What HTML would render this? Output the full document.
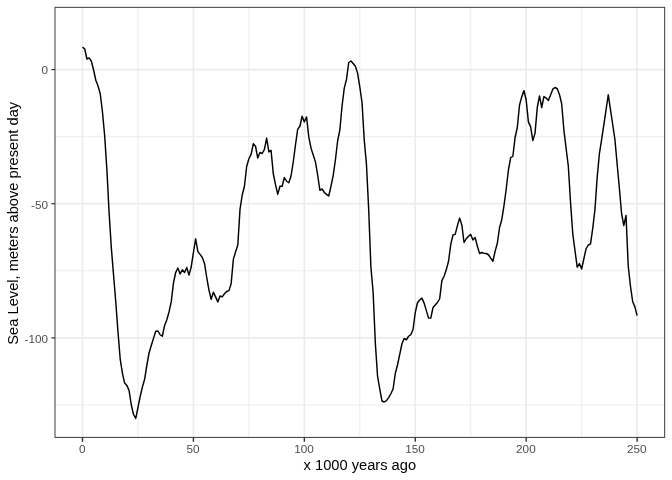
<!DOCTYPE html><html><head><meta charset="utf-8"><title>Sea level</title>
<style>html,body{margin:0;padding:0;background:#fff;overflow:hidden}svg{display:block}text{font-family:"Liberation Sans",Arial,Helvetica,sans-serif}</style></head><body>
<svg width="672" height="480" viewBox="0 0 672 480">
<rect x="0" y="0" width="672" height="480" fill="#fff"/>
<line x1="55.0" x2="664.67" y1="136.67" y2="136.67" stroke="#ebebeb" stroke-width="0.95"/>
<line x1="55.0" x2="664.67" y1="270.82" y2="270.82" stroke="#ebebeb" stroke-width="0.95"/>
<line x1="55.0" x2="664.67" y1="404.98" y2="404.98" stroke="#ebebeb" stroke-width="0.95"/>
<line y1="7.33" y2="437.4" x1="137.96" x2="137.96" stroke="#ebebeb" stroke-width="0.95"/>
<line y1="7.33" y2="437.4" x1="248.88" x2="248.88" stroke="#ebebeb" stroke-width="0.95"/>
<line y1="7.33" y2="437.4" x1="359.80" x2="359.80" stroke="#ebebeb" stroke-width="0.95"/>
<line y1="7.33" y2="437.4" x1="470.72" x2="470.72" stroke="#ebebeb" stroke-width="0.95"/>
<line y1="7.33" y2="437.4" x1="581.64" x2="581.64" stroke="#ebebeb" stroke-width="0.95"/>
<line x1="55.0" x2="664.67" y1="69.60" y2="69.60" stroke="#ebebeb" stroke-width="1.6"/>
<line x1="55.0" x2="664.67" y1="203.75" y2="203.75" stroke="#ebebeb" stroke-width="1.6"/>
<line x1="55.0" x2="664.67" y1="337.90" y2="337.90" stroke="#ebebeb" stroke-width="1.6"/>
<line y1="7.33" y2="437.4" x1="82.50" x2="82.50" stroke="#ebebeb" stroke-width="1.6"/>
<line y1="7.33" y2="437.4" x1="193.42" x2="193.42" stroke="#ebebeb" stroke-width="1.6"/>
<line y1="7.33" y2="437.4" x1="304.34" x2="304.34" stroke="#ebebeb" stroke-width="1.6"/>
<line y1="7.33" y2="437.4" x1="415.26" x2="415.26" stroke="#ebebeb" stroke-width="1.6"/>
<line y1="7.33" y2="437.4" x1="526.18" x2="526.18" stroke="#ebebeb" stroke-width="1.6"/>
<line y1="7.33" y2="437.4" x1="637.10" x2="637.10" stroke="#ebebeb" stroke-width="1.6"/>
<polyline points="82.50,47.10 84.72,49.00 86.94,59.00 89.16,57.90 91.37,61.25 93.59,70.00 95.81,80.25 98.03,86.00 100.25,93.75 102.47,112.00 104.68,136.00 106.90,170.00 109.12,213.00 111.34,248.00 113.56,275.00 115.78,302.00 117.99,332.00 120.21,359.20 122.43,373.30 124.65,383.10 126.87,385.40 129.09,390.50 131.30,405.00 133.52,414.50 135.74,418.40 137.96,407.50 140.18,396.50 142.40,387.00 144.62,379.30 146.83,365.30 149.05,353.00 151.27,345.50 153.49,338.40 155.71,331.20 157.93,331.00 160.14,334.75 162.36,336.25 164.58,325.50 166.80,320.00 169.02,311.90 171.24,301.90 173.45,283.10 175.67,272.50 177.89,268.10 180.11,274.00 182.33,269.75 184.55,272.50 186.76,267.50 188.98,275.10 191.20,267.00 193.42,252.50 195.64,238.75 197.86,251.60 200.08,254.40 202.29,257.50 204.51,263.40 206.73,277.50 208.95,290.00 211.17,299.40 213.39,292.25 215.60,296.90 217.82,301.90 220.04,296.00 222.26,296.90 224.48,293.75 226.70,291.50 228.91,290.60 231.13,283.75 233.35,259.40 235.57,251.90 237.79,245.00 240.01,209.40 242.22,195.00 244.44,186.25 246.66,166.50 248.88,158.75 251.10,154.40 253.32,143.75 255.54,146.25 257.75,158.10 259.97,152.50 262.19,153.50 264.41,149.40 266.63,138.10 268.85,151.90 271.06,150.40 273.28,173.75 275.50,184.70 277.72,194.40 279.94,186.25 282.16,186.25 284.37,177.50 286.59,181.25 288.81,182.75 291.03,176.00 293.25,162.00 295.47,145.00 297.68,129.40 299.90,126.25 302.12,116.25 304.34,121.90 306.56,116.90 308.78,136.90 311.00,148.10 313.21,155.00 315.43,161.90 317.65,175.00 319.87,190.25 322.09,189.00 324.31,192.50 326.52,194.40 328.74,196.00 330.96,186.25 333.18,175.60 335.40,160.00 337.62,141.00 339.83,130.00 342.05,106.00 344.27,88.10 346.49,79.40 348.71,62.50 350.93,61.00 353.14,63.50 355.36,66.25 357.58,73.10 359.80,86.90 362.02,102.50 364.24,140.00 366.46,164.50 368.67,209.00 370.89,267.00 373.11,292.00 375.33,343.00 377.55,376.25 379.77,389.00 381.98,401.00 384.20,402.00 386.42,400.60 388.64,397.60 390.86,393.75 393.08,389.00 395.29,373.50 397.51,365.00 399.73,354.40 401.95,343.75 404.17,338.50 406.39,339.75 408.60,336.25 410.82,334.75 413.04,329.50 415.26,312.50 417.48,302.75 419.70,300.00 421.92,298.10 424.13,303.10 426.35,310.60 428.57,318.10 430.79,318.10 433.01,307.50 435.23,305.00 437.44,302.50 439.66,298.75 441.88,280.60 444.10,276.25 446.32,269.60 448.54,261.25 450.75,244.40 452.97,235.00 455.19,234.40 457.41,225.60 459.63,218.10 461.85,225.00 464.06,242.50 466.28,238.75 468.50,236.25 470.72,234.40 472.94,240.00 475.16,237.50 477.38,246.25 479.59,253.50 481.81,252.50 484.03,253.40 486.25,253.50 488.47,254.75 490.69,258.10 492.90,261.25 495.12,251.25 497.34,243.10 499.56,227.50 501.78,219.70 504.00,205.50 506.21,189.00 508.43,170.00 510.65,157.75 512.87,156.25 515.09,137.50 517.31,127.50 519.52,105.00 521.74,96.90 523.96,90.60 526.18,100.00 528.40,121.90 530.62,126.90 532.84,140.60 535.05,133.10 537.27,107.50 539.49,96.00 541.71,107.50 543.93,96.60 546.15,98.10 548.36,100.40 550.58,95.00 552.80,89.20 555.02,87.50 557.24,88.75 559.46,94.40 561.67,103.75 563.89,130.00 566.11,148.50 568.33,166.25 570.55,202.50 572.77,233.75 574.98,250.50 577.20,267.25 579.42,263.50 581.64,269.00 583.86,258.75 586.08,248.75 588.30,245.00 590.51,243.90 592.73,228.40 594.95,209.50 597.17,177.50 599.39,153.75 601.61,139.60 603.82,124.90 606.04,109.90 608.26,94.75 610.48,109.60 612.70,124.50 614.92,139.50 617.13,164.00 619.35,188.00 621.57,213.50 623.79,225.60 626.01,215.40 628.23,266.00 630.44,286.00 632.66,301.50 634.88,306.90 637.10,315.60" fill="none" stroke="#000" stroke-width="1.45" stroke-linejoin="round" stroke-linecap="butt"/>
<rect x="55.0" y="7.33" width="609.67" height="430.07" fill="none" stroke="#333" stroke-width="0.95"/>
<line x1="51.33" x2="55.0" y1="69.60" y2="69.60" stroke="#333" stroke-width="1.2"/>
<text x="48.00" y="73.70" font-size="11.73" fill="#4d4d4d" text-anchor="end">0</text>
<line x1="51.33" x2="55.0" y1="203.75" y2="203.75" stroke="#333" stroke-width="1.2"/>
<text x="48.00" y="208.65" font-size="11.73" fill="#4d4d4d" text-anchor="end">-50</text>
<line x1="51.33" x2="55.0" y1="337.90" y2="337.90" stroke="#333" stroke-width="1.2"/>
<text x="48.00" y="342.80" font-size="11.73" fill="#4d4d4d" text-anchor="end">-100</text>
<line y1="437.4" y2="441.8" x1="82.50" x2="82.50" stroke="#333" stroke-width="1.42"/>
<text x="82.20" y="453.2" font-size="11.73" fill="#4d4d4d" text-anchor="middle">0</text>
<line y1="437.4" y2="441.8" x1="193.42" x2="193.42" stroke="#333" stroke-width="1.42"/>
<text x="193.12" y="453.2" font-size="11.73" fill="#4d4d4d" text-anchor="middle">50</text>
<line y1="437.4" y2="441.8" x1="304.34" x2="304.34" stroke="#333" stroke-width="1.42"/>
<text x="304.04" y="453.2" font-size="11.73" fill="#4d4d4d" text-anchor="middle">100</text>
<line y1="437.4" y2="441.8" x1="415.26" x2="415.26" stroke="#333" stroke-width="1.42"/>
<text x="414.96" y="453.2" font-size="11.73" fill="#4d4d4d" text-anchor="middle">150</text>
<line y1="437.4" y2="441.8" x1="526.18" x2="526.18" stroke="#333" stroke-width="1.42"/>
<text x="525.88" y="453.2" font-size="11.73" fill="#4d4d4d" text-anchor="middle">200</text>
<line y1="437.4" y2="441.8" x1="637.10" x2="637.10" stroke="#333" stroke-width="1.42"/>
<text x="636.80" y="453.2" font-size="11.73" fill="#4d4d4d" text-anchor="middle">250</text>
<text x="359.83" y="469.8" font-size="14.67" fill="#000" text-anchor="middle">x 1000 years ago</text>
<text transform="translate(18.3,223.26) rotate(-90)" font-size="14.67" fill="#000" text-anchor="middle">Sea Level, meters above present day</text>
</svg></body></html>
